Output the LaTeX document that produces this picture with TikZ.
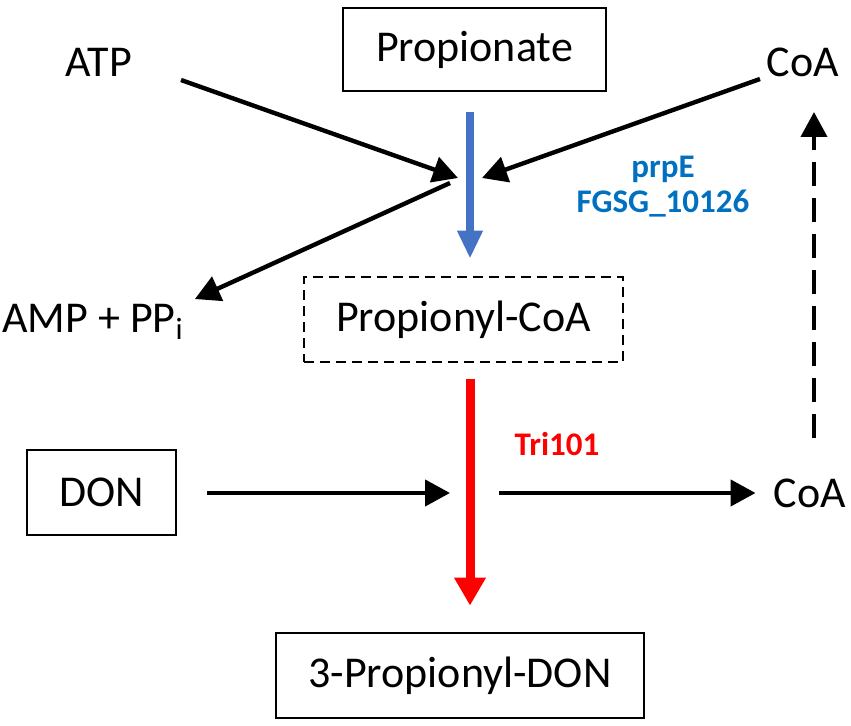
\documentclass[tikz,border=0pt]{standalone}
\usepackage{fontspec}
\setmainfont{Carlito}
\usepackage{xcolor}
\usepackage{tikz}
\usetikzlibrary{positioning}
\usetikzlibrary{arrows.meta}
\definecolor{enzblue}{HTML}{0070C0}
\definecolor{flowblue}{HTML}{4472C4}
\definecolor{flowred}{HTML}{FF0000}
\tikzset{edge/.style = {-{Triangle[length=12.5pt,width=13pt]}, line width=2.2pt}}

\begin{document}
\begin{tikzpicture}[x=0.5pt,y=-0.5pt,
    main node/.style={font=\fontsize{22}{26}\selectfont,inner sep=0pt},
    box node/.style={main node,draw,line width=1.4pt},
    enzyme/.style={font=\fontsize{16.5}{20}\selectfont\bfseries,inner sep=0pt}]
                \useasboundingbox (0,0) rectangle (851,726);
                % compounds
                \node[box node, minimum width=131.5pt, minimum height=41.5pt] (prop) at (474.5,49.5) {Propionate};
                \node[box node, dashed, dash pattern=on 5pt off 3pt, minimum width=159.5pt, minimum height=42.5pt] (pcoa) at (463.5,319.5) {Propionyl-CoA};
                \node[box node, minimum width=74.5pt, minimum height=42.5pt] (don) at (101.5,492.5) {DON};
                \node[box node, minimum width=184pt, minimum height=42.5pt] (pdon) at (460,675.5) {3-Propionyl-DON};
                \node[main node] (atp) at (99,62) {ATP};
                \node[main node] (coa1) at (803,62) {CoA};
                \node[main node] (amp) at (93,322) {AMP + PP\textsubscript{i}};
                \node[main node] (coa2) at (810,493) {CoA};
                % enzymes
                \node[enzyme, enzblue] (prpe) at (663,169) {prpE};
                \node[enzyme, enzblue] (fgsg) at (663,204) {FGSG\_10126};
                \node[enzyme, flowred] (tri) at (557,444) {Tri101};

                \coordinate (axis) at (470,0);
                \coordinate (atp tail) at (181,80);
                \coordinate (atp head) at (458,178);
                \coordinate (coa tail) at (760,79);
                \coordinate (coa head) at (482,178);
                \coordinate (amp tail) at (450,183);
                \coordinate (don head) at (450,493);
                \coordinate (coa2 tail) at (499,493);
                \coordinate (cyc tail) at (814,438);
                \coordinate (cyc head) at (814,112);

                \draw[-{Triangle[length=14pt,width=12pt]}, line width=4pt, flowblue, shorten <=10pt, shorten >=8.5pt] (prop.south -| axis) -- (pcoa.north -| axis);
                \draw[-{Triangle[length=14pt,width=15pt]}, line width=4.5pt, flowred, shorten <=8pt, shorten >=13pt] (pcoa.south -| axis) -- (pdon.north -| axis);

                \path[edge] (atp tail) edge (atp head);
                \path[edge] (coa tail) edge (coa head);
                \path[edge, shorten >=6pt] (amp tail) edge (amp.north east);
                \path[edge, shorten <=15pt] (don.east |- don head) edge (don head);
                \path[edge, shorten >=9pt] (coa2 tail) edge (coa2.west);
                \path[edge, line width=2pt, dash pattern=on 12pt off 6pt] (cyc tail) edge (cyc head);
            \end{tikzpicture}
\end{document}
